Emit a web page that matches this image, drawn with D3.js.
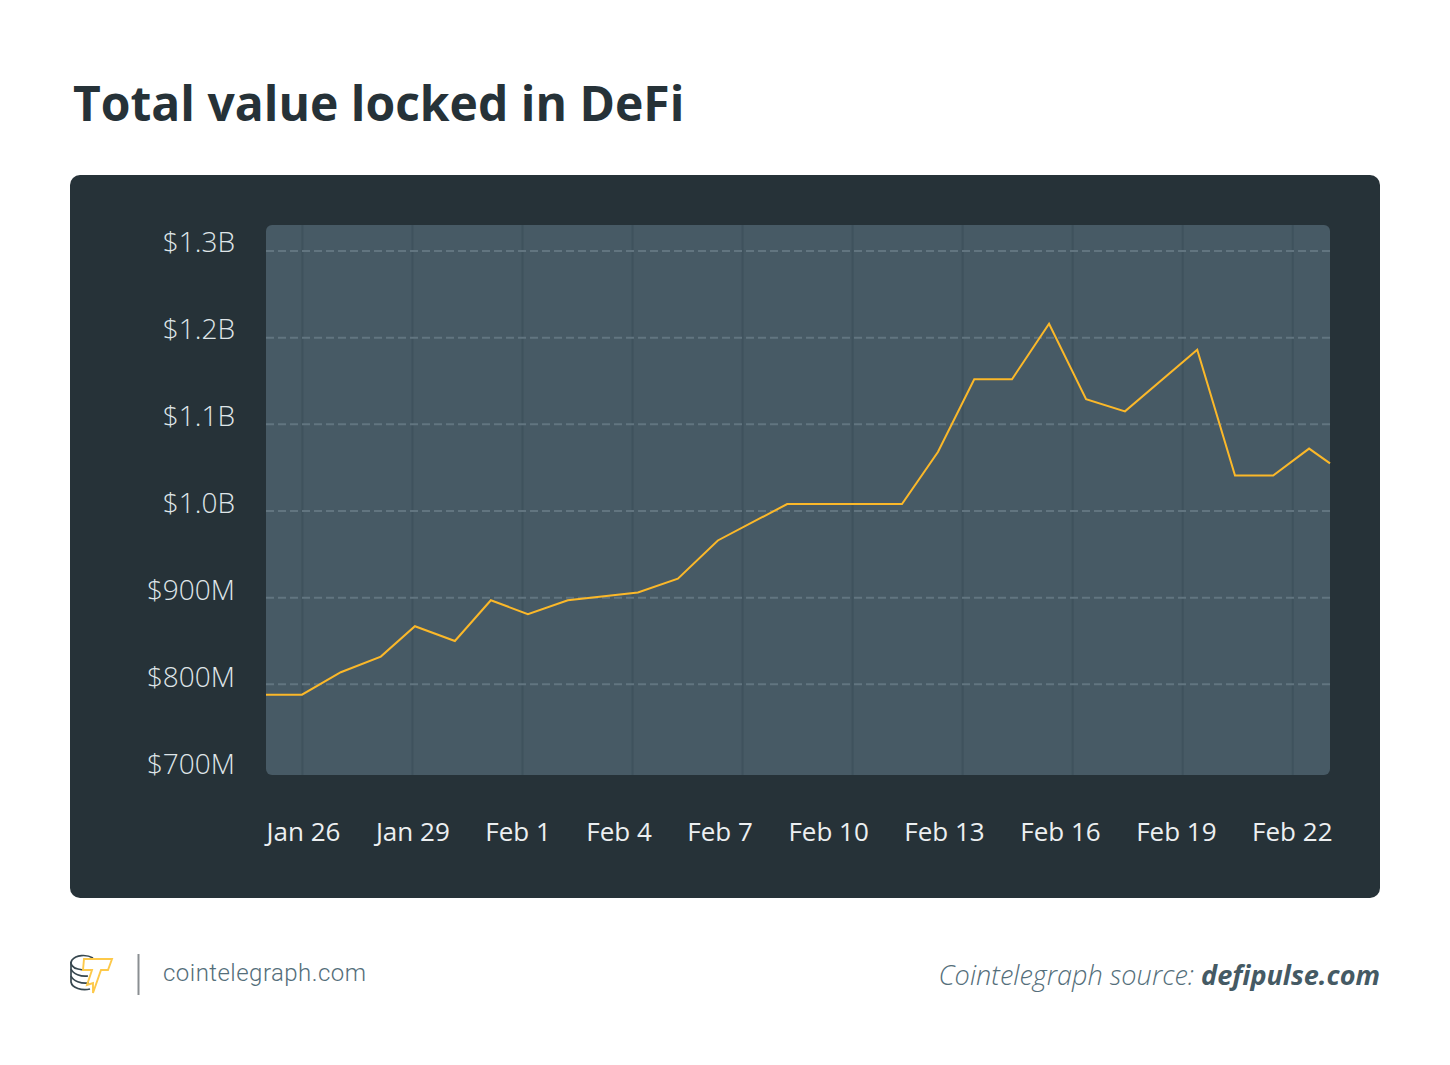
<!DOCTYPE html>
<html>
<head>
<meta charset="utf-8">
<script src="https://cdn.jsdelivr.net/npm/d3@7"></script>
<style>
html, body { margin: 0; padding: 0; background: #fff; }
svg { display: block; }
text { font-family: "Open Sans", sans-serif; }
</style>
</head>
<body>
<script>
// days counted from Jan 26
var days = [-0.98, 0, 1.06, 2.15, 3.08, 4.17, 5.15, 6.16, 7.25, 9.16, 10.25, 11.34, 13.23, 16.36,
    17.34, 18.33, 19.36, 20.37, 21.38, 22.44, 24.41, 25.44, 26.48, 27.46, 28.03];
// total value locked, $M
var tvl = [788, 788, 814, 832, 867, 850, 897, 881, 897, 906, 922, 966, 1008, 1008,
    1068, 1152, 1152, 1216, 1129, 1115, 1186, 1041, 1041, 1072, 1055];
var tickDays = [0, 3, 6, 9, 12, 15, 18, 21, 24, 27];
var tickLabels = ["Jan 26", "Jan 29", "Feb 1", "Feb 4", "Feb 7", "Feb 10", "Feb 13", "Feb 16", "Feb 19", "Feb 22"];
var yTicks = [700, 800, 900, 1000, 1100, 1200, 1300];
var yLabels = ["$700M", "$800M", "$900M", "$1.0B", "$1.1B", "$1.2B", "$1.3B"];

var width = 1450, height = 1065;
var panel = { left: 266, right: 1330, top: 225, bottom: 775 };

var svg = d3.select("body").append("svg")
    .attr("width", width)
    .attr("height", height);

svg.append("text")
    .attr("x", 73)
    .attr("y", 121)
    .attr("font-size", 48)
    .attr("font-weight", 700)
    .attr("fill", "#263238")
    .text("Total value locked in DeFi");

// dark card and plot area
svg.append("rect")
    .attr("x", 70).attr("y", 175)
    .attr("width", 1310).attr("height", 723)
    .attr("rx", 10)
    .attr("fill", "#263238");

svg.append("rect")
    .attr("x", panel.left).attr("y", panel.top)
    .attr("width", panel.right - panel.left).attr("height", panel.bottom - panel.top)
    .attr("rx", 6)
    .attr("fill", "#475a65");

var x = d3.scaleLinear()
    .domain([-0.98, 28.03])
    .range([panel.left, panel.right]);

var y = d3.scaleLinear()
    .domain([700, 1300])
    .range([771, 251]);

// the labels run on a slightly different spacing from the grid lines
var yLabelScale = d3.scaleLinear()
    .domain([700, 1300])
    .range([762, 240]);

// x axis, tick lines double as the vertical grid
var xAxis = svg.append("g")
    .attr("transform", "translate(0," + panel.bottom + ")")
    .call(d3.axisBottom(x)
        .tickValues(tickDays)
        .tickSize(-(panel.bottom - panel.top))
        .tickFormat(function(d, i) { return tickLabels[i]; }));

xAxis.select(".domain").remove();
xAxis.selectAll("line")
    .attr("stroke", "#3f525d")
    .attr("stroke-width", 2);

var xText = xAxis.selectAll("text")
    .attr("font-size", 26)
    .attr("fill", "#eceff1")
    .attr("text-anchor", "start")
    .attr("dy", 0)
    .attr("y", 66);

// labels are spread evenly across the plot width, not centred on their ticks
var sizes = xText.nodes().map(function(n) { return n.getComputedTextLength(); });
var gap = (1332 - panel.left - d3.sum(sizes)) / (sizes.length - 1);
var cursor = panel.left;
xText.each(function(d, i) {
    var tickX = x(tickDays[i]);
    d3.select(this).attr("x", cursor - tickX);
    cursor += sizes[i] + gap;
});

var yAxis = svg.append("g")
    .attr("transform", "translate(" + panel.left + ",0)")
    .call(d3.axisLeft(yLabelScale)
        .tickValues(yTicks)
        .tickSize(0)
        .tickPadding(31)
        .tickFormat(function(d, i) { return yLabels[i]; }));

yAxis.select(".domain").remove();
yAxis.selectAll("line").remove();
yAxis.selectAll("text")
    .attr("font-size", 28)
    .attr("font-weight", 300)
    .attr("fill", "#dfe5e8")
    .attr("dy", 0)
    .attr("dominant-baseline", "central");

// dashed grid, none at the bottom value
svg.append("g").selectAll("line")
    .data(yTicks.slice(1))
    .enter()
    .append("line")
    .attr("x1", panel.left)
    .attr("x2", panel.right)
    .attr("y1", function(d) { return y(d); })
    .attr("y2", function(d) { return y(d); })
    .attr("stroke", "#627580")
    .attr("stroke-width", 2)
    .attr("stroke-dasharray", "8 4");

// the line
var line = d3.line()
    .x(function(d, i) { return x(days[i]); })
    .y(function(d) { return y(d); });

svg.append("path")
    .datum(tvl)
    .attr("d", line)
    .attr("fill", "none")
    .attr("stroke", "#fbb829")
    .attr("stroke-width", 2)
    .attr("stroke-linejoin", "miter");

// footer logo: coin stack and bolt
var logo = svg.append("g").attr("fill", "none").attr("stroke-width", 1.7);
var coins = logo.append("g").attr("stroke", "#37474f");
coins.append("path").attr("d", "M93,958 C86,954 76,955 72,960 C69,964 73,968 78,969 C81,970 84,970 87,970");
coins.append("path").attr("d", "M71,962 L71,982 C72,988 82,991 90,989");
coins.append("path").attr("d", "M71,969 C73,974 81,977 88,976");
coins.append("path").attr("d", "M71,976 C73,981 81,984 89,983");
logo.append("path")
    .attr("stroke", "#fdc94a")
    .attr("stroke-width", 1.9)
    .attr("d", "M84,959 L112,959 L108,970 L101,970 L93,993 L93,983 L87,985 L92,970 L83,970 Z");

svg.append("line")
    .attr("x1", 138.5).attr("x2", 138.5)
    .attr("y1", 954).attr("y2", 995)
    .attr("stroke", "#8a8f92")
    .attr("stroke-width", 2);

svg.append("text")
    .attr("x", 163)
    .attr("y", 981)
    .attr("font-size", 24)
    .attr("font-weight", 300)
    .attr("letter-spacing", 0.47)
    .attr("fill", "#546e7a")
    .style("font-family", "Roboto")
    .text("cointelegraph.com");

var source = svg.append("text")
    .attr("x", 1380)
    .attr("y", 985)
    .attr("text-anchor", "end")
    .attr("font-size", 27.1)
    .attr("font-style", "italic")
    .attr("fill", "#546e7a");
source.append("tspan").attr("font-weight", 300).text("Cointelegraph source: ");
source.append("tspan").attr("font-weight", 700).attr("fill", "#455a64").text("defipulse.com");
</script>
</body>
</html>
